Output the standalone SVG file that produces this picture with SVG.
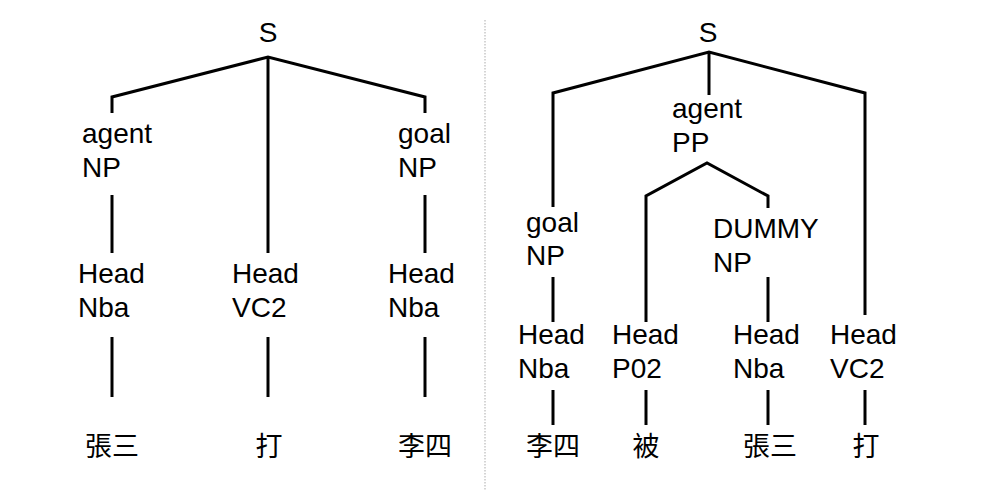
<svg xmlns="http://www.w3.org/2000/svg" width="1000" height="500" viewBox="0 0 1000 500">
  <style>
    .lbl { font-family: "Liberation Sans", Arial, "Noto Sans CJK TC", sans-serif; font-size: 28px; fill: #000; }
    .mid { text-anchor: middle; }
    .zh { font-family: "Noto Sans CJK TC", "Noto Sans CJK SC", sans-serif; font-size: 27px; fill: #000; text-anchor: middle; }
    .edge { fill: none; stroke: #000; stroke-width: 3; stroke-linejoin: miter; stroke-linecap: butt; }
    .divider { stroke: #c8c8c8; stroke-width: 1.5; stroke-dasharray: 1.5 1.5; }
  </style>
  <rect width="1000" height="500" fill="#fff"/>
  <line class="divider" x1="485" y1="20" x2="485" y2="490"/>

  <g id="connectors">
    <!-- left tree -->
    <polyline class="edge" points="112,113 112,97 268,57 425,97 425,113"/>
    <line class="edge" x1="268" y1="57" x2="268" y2="253"/>
    <line class="edge" x1="112" y1="195" x2="112" y2="253"/>
    <line class="edge" x1="425" y1="195" x2="425" y2="253"/>
    <line class="edge" x1="112" y1="337" x2="112" y2="397"/>
    <line class="edge" x1="268" y1="337" x2="268" y2="397"/>
    <line class="edge" x1="425" y1="337" x2="425" y2="397"/>
    <!-- right tree -->
    <polyline class="edge" points="553,207 553,93 709,52 865,93 865,315"/>
    <line class="edge" x1="709" y1="52" x2="709" y2="95"/>
    <polyline class="edge" points="646,322 646,196 707,163 768,196 768,208"/>
    <line class="edge" x1="553" y1="277" x2="553" y2="322"/>
    <line class="edge" x1="768" y1="277" x2="768" y2="322"/>
    <line class="edge" x1="553" y1="390" x2="553" y2="425"/>
    <line class="edge" x1="646" y1="390" x2="646" y2="425"/>
    <line class="edge" x1="768" y1="390" x2="768" y2="425"/>
    <line class="edge" x1="865" y1="390" x2="865" y2="425"/>
  </g>

  <!-- left tree nodes -->
  <g id="L-S"><text class="lbl mid" x="268" y="42">S</text></g>
  <g id="L-agentNP"><text class="lbl" x="82" y="143">agent</text><text class="lbl" x="82" y="177">NP</text></g>
  <g id="L-goalNP"><text class="lbl" x="398" y="143">goal</text><text class="lbl" x="398" y="177">NP</text></g>
  <g id="L-HeadNba1"><text class="lbl" x="78" y="283">Head</text><text class="lbl" x="78" y="317">Nba</text></g>
  <g id="L-HeadVC2"><text class="lbl" x="232" y="283">Head</text><text class="lbl" x="232" y="317">VC2</text></g>
  <g id="L-HeadNba2"><text class="lbl" x="388" y="283">Head</text><text class="lbl" x="388" y="317">Nba</text></g>
  <g id="L-w1"><text class="zh" x="112" y="456">張三</text></g>
  <g id="L-w2"><text class="zh" x="269" y="456">打</text></g>
  <g id="L-w3"><text class="zh" x="425" y="456">李四</text></g>

  <!-- right tree nodes -->
  <g id="R-S"><text class="lbl mid" x="708" y="42">S</text></g>
  <g id="R-agentPP"><text class="lbl" x="672" y="118">agent</text><text class="lbl" x="672" y="152">PP</text></g>
  <g id="R-goalNP"><text class="lbl" x="526" y="232">goal</text><text class="lbl" x="526" y="265">NP</text></g>
  <g id="R-dummyNP"><text class="lbl" x="713" y="238">DUMMY</text><text class="lbl" x="713" y="272">NP</text></g>
  <g id="R-HeadNba1"><text class="lbl" x="518" y="344">Head</text><text class="lbl" x="518" y="378">Nba</text></g>
  <g id="R-HeadP02"><text class="lbl" x="612" y="344">Head</text><text class="lbl" x="612" y="378">P02</text></g>
  <g id="R-HeadNba2"><text class="lbl" x="733" y="344">Head</text><text class="lbl" x="733" y="378">Nba</text></g>
  <g id="R-HeadVC2"><text class="lbl" x="830" y="344">Head</text><text class="lbl" x="830" y="378">VC2</text></g>
  <g id="R-w1"><text class="zh" x="553" y="456">李四</text></g>
  <g id="R-w2"><text class="zh" x="646" y="456">被</text></g>
  <g id="R-w3"><text class="zh" x="770" y="456">張三</text></g>
  <g id="R-w4"><text class="zh" x="866" y="456">打</text></g>
</svg>
